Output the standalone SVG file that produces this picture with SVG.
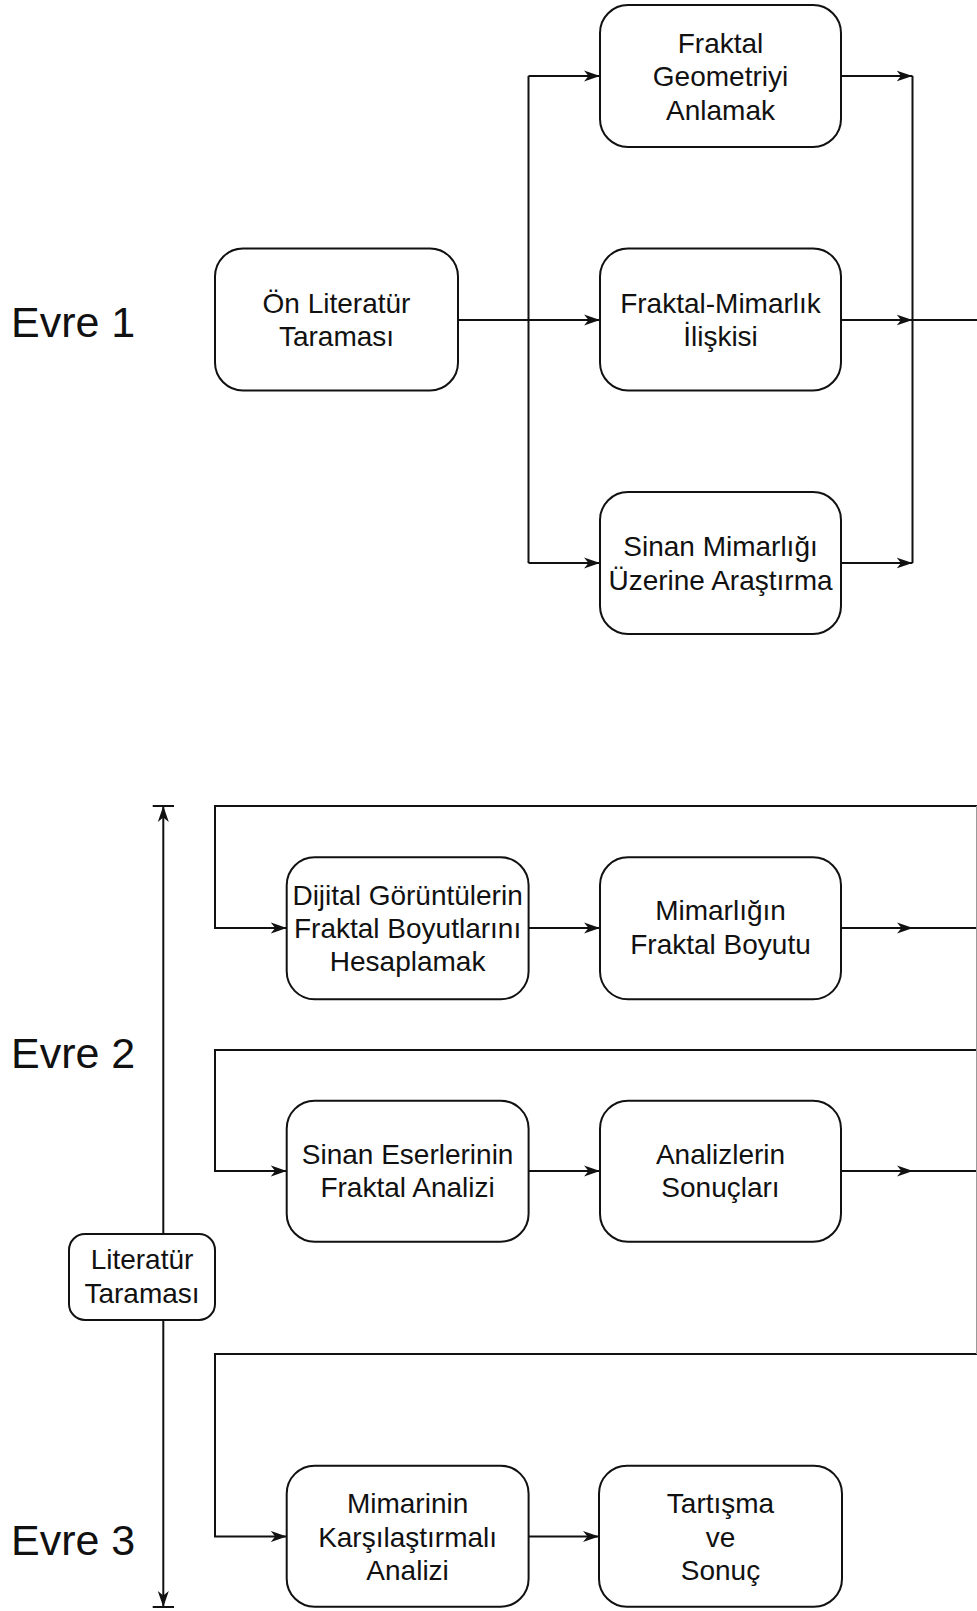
<svg xmlns="http://www.w3.org/2000/svg" width="977" height="1611" viewBox="0 0 977 1611">
  <defs>
    <style>
      .box { fill: #ffffff; stroke: #111; stroke-width: 2; }
      .lbl { font-family: "Liberation Sans", Arial, sans-serif; font-size: 28px; fill: #111; text-anchor: middle; }
      .phase { font-family: "Liberation Sans", Arial, sans-serif; font-size: 43px; fill: #111; }
      .wire { fill: none; stroke: #111; stroke-width: 2; }
      .arr { marker-end: url(#head); }
      .edge { fill: none; stroke: #9a9a9a; stroke-width: 1; }
    </style>
    <marker id="head" viewBox="0 0 16 12" refX="16" refY="6" markerWidth="16" markerHeight="12" markerUnits="userSpaceOnUse" orient="auto">
      <path d="M0,0.5 L16,6 L0,11.5 L4.5,6 Z" fill="#111"/>
    </marker>
  </defs>

  <rect x="0" y="0" width="977" height="1611" fill="#ffffff"/>

  <!-- phase labels -->
  <g id="phase-labels">
    <text class="phase" x="11" y="337">Evre 1</text>
    <text class="phase" x="11" y="1068">Evre 2</text>
    <text class="phase" x="11" y="1555">Evre 3</text>
  </g>

  <!-- connectors -->
  <g id="connectors">
    <!-- phase 1: fan out -->
    <path class="wire" d="M458,320 L528.5,320"/>
    <path class="wire arr" d="M528.5,320 L600,320"/>
    <path class="wire" d="M528.5,76 L528.5,563"/>
    <path class="wire arr" d="M528.5,76 L600,76"/>
    <path class="wire arr" d="M528.5,563 L600,563"/>
    <!-- phase 1: fan in -->
    <path class="wire arr" d="M841,76 L912.5,76"/>
    <path class="wire arr" d="M841,320 L912.5,320"/>
    <path class="wire arr" d="M841,563 L912.5,563"/>
    <path class="wire" d="M912.5,76 L912.5,563"/>
    <path class="wire" d="M912.5,320 L977,320"/>

    <!-- phase 2 / 3 feedback loops -->
    <path class="wire arr" d="M977,806 L215,806 L215,928 L286.7,928"/>
    <path class="wire arr" d="M528.6,928 L600,928"/>
    <path class="wire arr" d="M841,928 L913,928"/>
    <path class="wire" d="M913,928 L977,928"/>

    <path class="wire arr" d="M977,1050 L215,1050 L215,1171 L286.7,1171"/>
    <path class="wire arr" d="M528.6,1171 L600,1171"/>
    <path class="wire arr" d="M841,1171 L913,1171"/>
    <path class="wire" d="M913,1171 L977,1171"/>

    <path class="wire arr" d="M977,1354 L215,1354 L215,1536.5 L286.7,1536.5"/>
    <path class="wire arr" d="M528.6,1536.5 L599,1536.5"/>

    <!-- right margin return line -->
    <path class="edge" d="M976.5,806 L976.5,1354"/>

    <!-- literature review span -->
    <path class="wire arr" d="M163.3,1234 L163.3,806"/>
    <path class="wire" d="M152.7,806 L174,806"/>
    <path class="wire arr" d="M163.3,1320 L163.3,1607"/>
    <path class="wire" d="M152.7,1607 L174,1607"/>
  </g>

  <!-- phase 1 nodes -->
  <g id="on-literatur">
    <rect class="box" x="215" y="248.5" width="243" height="142" rx="28"/>
    <text class="lbl" x="336.5" y="312.5">Ön Literatür</text>
    <text class="lbl" x="336.5" y="346">Taraması</text>
  </g>
  <g id="fraktal-geometri">
    <rect class="box" x="600" y="5" width="241" height="142" rx="28"/>
    <text class="lbl" x="720.5" y="52.5">Fraktal</text>
    <text class="lbl" x="720.5" y="86">Geometriyi</text>
    <text class="lbl" x="720.5" y="119.5">Anlamak</text>
  </g>
  <g id="fraktal-mimarlik">
    <rect class="box" x="600" y="248.5" width="241" height="142" rx="28"/>
    <text class="lbl" x="720.5" y="312.5">Fraktal-Mimarlık</text>
    <text class="lbl" x="720.5" y="346">İlişkisi</text>
  </g>
  <g id="sinan-mimarligi">
    <rect class="box" x="600" y="492" width="241" height="142" rx="28"/>
    <text class="lbl" x="720.5" y="556">Sinan Mimarlığı</text>
    <text class="lbl" x="720.5" y="589.5">Üzerine Araştırma</text>
  </g>

  <!-- phase 2 nodes -->
  <g id="dijital-goruntuler">
    <rect class="box" x="286.7" y="857.3" width="241.9" height="142" rx="28"/>
    <text class="lbl" x="407.6" y="905">Dijital Görüntülerin</text>
    <text class="lbl" x="407.6" y="938">Fraktal Boyutlarını</text>
    <text class="lbl" x="407.6" y="971">Hesaplamak</text>
  </g>
  <g id="mimarligin-fraktal-boyutu">
    <rect class="box" x="600" y="857.3" width="241" height="142" rx="28"/>
    <text class="lbl" x="720.5" y="920">Mimarlığın</text>
    <text class="lbl" x="720.5" y="954">Fraktal Boyutu</text>
  </g>
  <g id="sinan-eserleri">
    <rect class="box" x="286.7" y="1100.7" width="241.9" height="141" rx="28"/>
    <text class="lbl" x="407.6" y="1163.5">Sinan Eserlerinin</text>
    <text class="lbl" x="407.6" y="1197">Fraktal Analizi</text>
  </g>
  <g id="analiz-sonuclari">
    <rect class="box" x="600" y="1100.7" width="241" height="141" rx="28"/>
    <text class="lbl" x="720.5" y="1163.5">Analizlerin</text>
    <text class="lbl" x="720.5" y="1197">Sonuçları</text>
  </g>
  <g id="literatur-taramasi">
    <rect class="box" x="69" y="1234" width="146" height="86" rx="16"/>
    <text class="lbl" x="142" y="1269">Literatür</text>
    <text class="lbl" x="142" y="1302.5">Taraması</text>
  </g>

  <!-- phase 3 nodes -->
  <g id="karsilastirmali-analiz">
    <rect class="box" x="286.7" y="1465.7" width="241.9" height="141" rx="28"/>
    <text class="lbl" x="407.6" y="1513">Mimarinin</text>
    <text class="lbl" x="407.6" y="1546.5">Karşılaştırmalı</text>
    <text class="lbl" x="407.6" y="1580">Analizi</text>
  </g>
  <g id="tartisma-sonuc">
    <rect class="box" x="599" y="1465.7" width="243" height="141" rx="28"/>
    <text class="lbl" x="720.5" y="1513">Tartışma</text>
    <text class="lbl" x="720.5" y="1546.5">ve</text>
    <text class="lbl" x="720.5" y="1580">Sonuç</text>
  </g>
</svg>
